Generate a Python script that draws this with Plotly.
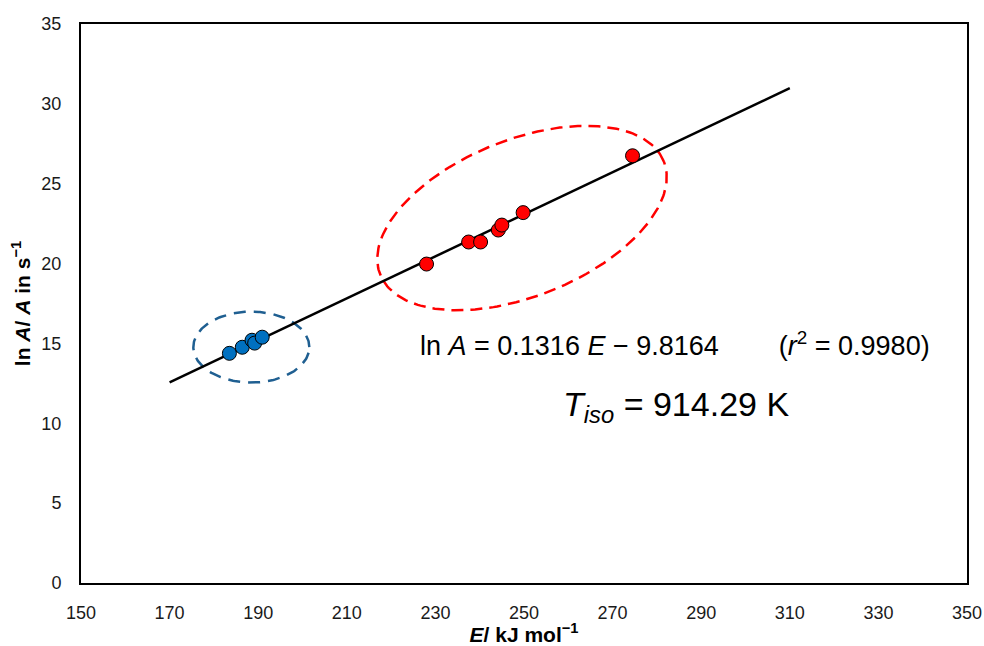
import numpy as np
import plotly.graph_objects as go

# ---- data ----
blue_E = [183.5, 186.4, 188.6, 189.2, 190.9]
blue_lnA = [14.38, 14.76, 15.20, 15.02, 15.39]
red_E = [228.0, 237.5, 240.2, 244.2, 245.0, 249.8, 274.5]
red_lnA = [19.97, 21.35, 21.35, 22.10, 22.41, 23.19, 26.75]
slope, intercept = 0.1316, -9.8164
fit_E = [170, 310]
x_ticks = [150, 170, 190, 210, 230, 250, 270, 290, 310, 330, 350]
y_ticks = [0, 5, 10, 15, 20, 25, 30, 35]

fit_lnA = [slope * e + intercept for e in fit_E]

# geometry (pixel -> data scale), used only for decorative ellipses
W, H = 984, 646
ml, mr, mt, mb = 81, 17, 24, 63
pw, ph = W - ml - mr, H - mt - mb
sx = pw / 200.0
sy = ph / 35.0


def ellipse(cx, cy, a_px, b_px, theta_deg):
    t = np.linspace(0, 2 * np.pi, 240)
    th = np.radians(theta_deg)
    dx = a_px * np.cos(t) * np.cos(th) - b_px * np.sin(t) * np.sin(th)
    dy = a_px * np.cos(t) * np.sin(th) + b_px * np.sin(t) * np.cos(th)
    return cx + dx / sx, cy + dy / sy


rex, rey = ellipse(249.55, 22.85, 152.7, 78.3, 21.8)
bex, bey = ellipse(188.45, 14.77, 58, 35.5, 0)

fig = go.Figure()
fig.add_trace(go.Scatter(x=rex, y=rey, mode="lines", hoverinfo="skip", showlegend=False,
                         line=dict(color="#FF0000", width=2.5, dash="12px,7px")))
fig.add_trace(go.Scatter(x=bex, y=bey, mode="lines", hoverinfo="skip", showlegend=False,
                         line=dict(color="#1F5F91", width=2.5, dash="12px,8px")))
fig.add_trace(go.Scatter(x=fit_E, y=fit_lnA, mode="lines", showlegend=False,
                         line=dict(color="black", width=2.5)))
fig.add_trace(go.Scatter(x=blue_E, y=blue_lnA, mode="markers", showlegend=False,
                         marker=dict(color="#0070C0", size=14, line=dict(color="black", width=1))))
fig.add_trace(go.Scatter(x=red_E, y=red_lnA, mode="markers", showlegend=False,
                         marker=dict(color="#FF0000", size=14, line=dict(color="black", width=1))))

font_family = "Arial, Liberation Sans, sans-serif"
fig.update_layout(
    width=W, height=H,
    margin=dict(l=ml, r=mr, t=mt, b=mb, autoexpand=False),
    paper_bgcolor="white", plot_bgcolor="white",
    font=dict(family=font_family, color="black", size=18),
    xaxis=dict(range=[150, 350], tickvals=x_ticks, showgrid=False, zeroline=False,
               showline=True, mirror=True, linecolor="black", linewidth=2, automargin=False,
               ticks="", ticklabelstandoff=12, tickfont=dict(size=18, color="#1a1a1a"),
               title=dict(text="<b><i>E</i>/ kJ mol<sup>−1</sup></b>", font=dict(size=21), standoff=9)),
    yaxis=dict(range=[0, 35], tickvals=y_ticks, showgrid=False, zeroline=False,
               showline=True, mirror=True, linecolor="black", linewidth=2, automargin=False,
               ticks="", ticklabelstandoff=14, tickfont=dict(size=18, color="#1a1a1a"),
               title=dict(text="<b>ln <i>A</i>/ <i>A</i> in s<sup>−1</sup></b>", font=dict(size=21), standoff=5)),
)

fig.add_annotation(xref="paper", yref="paper", x=(418 - ml) / pw, y=(583 - 344) / ph,
                   xanchor="left", yanchor="middle", showarrow=False,
                   text="ln <i>A</i> = 0.1316 <i>E</i> − 9.8164" + "\u00a0" * 8 + "(<i>r</i><sup>2</sup> = 0.9980)",
                   font=dict(size=27, color="black"))
fig.add_annotation(xref="paper", yref="paper", x=(561 - ml) / pw, y=(583 - 406) / ph,
                   xanchor="left", yanchor="middle", showarrow=False,
                   text="<i>T<sub>iso</sub></i> = 914.29 K",
                   font=dict(size=34, color="black"))

fig.write_html("out.html")
